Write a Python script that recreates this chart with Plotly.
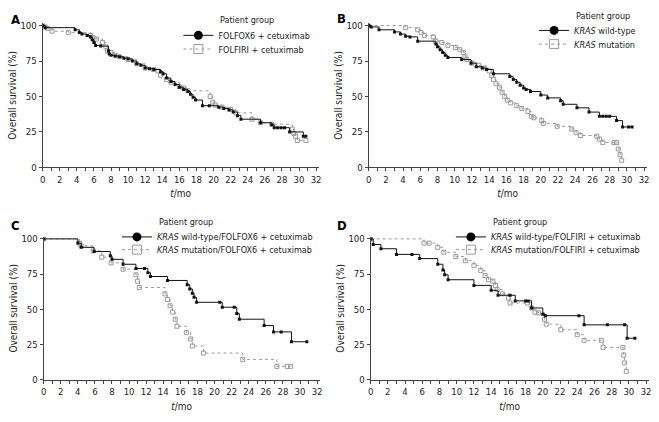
import plotly.graph_objects as go

# ---- data (months, % surviving) ----
a_fox_t = [0, 0.3, 3.8, 4.3, 4.6, 5.2, 5.6, 5.8, 6.0, 6.2, 6.8, 7.7, 7.8, 8.0, 8.5, 9.0, 9.5, 10.0, 10.5, 11.0,
           11.5, 12.0, 12.5, 13.0, 13.8, 14.1, 14.5, 15.0, 15.5, 16.0, 16.5, 17.0, 17.3, 17.6, 17.9, 18.7, 19.5,
           20.6, 21.2, 21.8, 22.3, 22.8, 23.2, 25.5, 26.8, 27.1, 27.5, 27.9, 28.3, 28.9, 30.5, 30.8]
a_fox_s = [100, 98.5, 97, 95, 94, 93, 92, 90, 88, 86, 85.5, 82, 80, 79, 78.5, 78, 77, 76.5, 75, 73,
           72, 70, 69.5, 69, 67.5, 66, 63, 60.5, 58.5, 56.5, 55, 53.5, 51.5, 49.5, 47.5, 43.5, 43.5,
           42.5, 41.5, 40.5, 39, 36.5, 34, 31.5, 30, 28, 28, 28, 28, 25, 22, 22]
a_iri_t = [0, 0.3, 0.6, 1.1, 3.0, 5.6, 5.9, 6.3, 7.0, 7.4, 7.6, 8.0, 8.5, 9.0, 10.0, 11.0, 12.0, 13.0, 13.5, 13.8,
           14.5, 15.0, 16.0, 16.5, 17.0, 19.6, 19.9, 20.2, 21.0, 22.0, 22.6, 24.5, 25.5, 26.8, 29.2, 29.4, 29.6,
           29.8, 30.8]
a_iri_s = [100, 99, 98, 96, 95, 93, 91.5, 90.5, 88, 85, 82, 81, 79, 78, 76, 73, 70, 69, 68, 65,
           62, 60, 57, 56, 54, 50, 46, 44, 42.5, 41, 38.5, 34, 31.5, 30.5, 27, 24, 22,
           19, 19]

b_wt_t = [0, 0.3, 1.2, 3.0, 3.7, 4.3, 4.8, 5.7, 7.8, 8.0, 8.3, 8.6, 8.9, 9.2, 10.8, 11.9, 12.5, 13.2, 13.7, 14.5,
          16.4, 16.8, 17.2, 17.6, 18.0, 18.3, 18.8, 20.0, 20.8, 22.3, 22.6, 24.2, 25.6, 26.8, 27.2, 27.6, 28.0,
          28.8, 29.5, 30.2, 30.6]
b_wt_s = [100, 99, 97, 95.5, 94, 92.5, 92, 89, 87, 85, 83, 81, 79, 77.5, 76, 73.5, 71, 70, 69, 66,
          64, 62, 60, 58, 56, 55, 53.5, 51, 49, 47, 44.5, 42, 39, 36, 36, 36, 36,
          33, 28.5, 28.5, 28.5]
b_mut_t = [0, 4.3, 5.7, 6.1, 6.5, 7.5, 7.8, 8.5, 9.2, 10.1, 10.6, 11.0, 11.2, 11.4, 12.0, 12.8, 13.5, 14.0, 14.3,
           14.5, 14.8, 15.2, 15.5, 15.8, 16.1, 16.5, 17.2, 17.8, 18.5, 18.9, 19.2, 20.1, 20.3, 21.9, 23.6, 24.1,
           24.6, 26.5, 26.8, 27.2, 28.5, 28.8, 29.0, 29.2, 29.4]
b_mut_s = [100, 98.5, 97, 95, 93, 92, 89, 88, 86, 84.5, 83, 81, 78, 76, 73.5, 72, 70, 68, 65,
           62, 59, 56.5, 53, 50, 47.5, 45.5, 43.5, 41.5, 39.5, 36, 35, 33, 31, 29, 27, 24.5,
           22.5, 22, 20, 17.5, 17.5, 17.5, 13, 9, 5]

c_wt_t = [0, 4.0, 4.4, 5.9, 7.8, 8.0, 9.3, 10.8, 11.8, 12.2, 12.5, 14.5, 16.8, 17.1, 17.4, 17.6, 17.9, 20.6,
          20.9, 22.3, 22.6, 22.9, 25.8, 26.9, 27.8, 29.0, 30.8]
c_wt_s = [100, 97, 94, 91, 88, 85.5, 82, 79, 79, 76, 73.3, 70.5, 67.5, 64.5, 61.5, 58.5, 55, 55,
          51.5, 51.5, 47, 43, 38.5, 34, 34, 27, 27]
c_mut_t = [0, 4.2, 4.4, 5.8, 6.8, 7.9, 9.3, 10.8, 11.0, 11.2, 14.2, 14.5, 14.8, 15.1, 15.4, 15.6, 16.7, 17.2,
           17.4, 18.7, 23.3, 27.3, 28.5, 28.9]
c_mut_s = [100, 97, 95, 91.5, 87, 83, 78.5, 74.5, 70, 65.5, 61, 57, 52.5, 48, 43, 38, 33.5, 29,
           24, 19, 14.5, 9.5, 9.5, 9.5]

d_wt_t = [0, 0.3, 1.2, 3.0, 4.8, 5.7, 7.8, 8.4, 8.6, 9.0, 12.0, 14.0, 14.8, 16.2, 16.8, 18.0, 18.3, 18.7, 20.0,
          20.3, 24.2, 24.8, 27.5, 29.5, 29.8, 30.7]
d_wt_s = [100, 96, 93, 89, 89, 86, 82, 78, 74.5, 71, 67, 63.5, 60, 60, 56, 56, 56, 51, 46.5,
          45.5, 45.5, 39, 39, 39, 29.5, 29.5]
d_mut_t = [0, 6.2, 6.8, 7.8, 8.5, 9.9, 11.0, 12.0, 12.8, 13.3, 13.7, 14.2, 14.5, 14.7, 15.3, 16.0, 16.2, 18.2,
           18.7, 19.1, 19.5, 20.2, 20.4, 22.1, 24.0, 24.8, 26.8, 27.0, 29.3, 29.4, 29.5, 29.7]
d_mut_s = [100, 97, 97, 94, 90.5, 87.5, 84.5, 81, 77.5, 74, 71, 70, 67, 64, 61, 58, 54.5, 54.5,
           51, 48, 47.5, 43, 39.5, 35.5, 32, 28, 28, 23, 23, 17.5, 12, 6]

panel_letters = ["A", "B", "C", "D"]
names_black = ["FOLFOX6 + cetuximab", "<i>KRAS</i> wild-type",
               "<i>KRAS</i> wild-type/FOLFOX6 + cetuximab", "<i>KRAS</i> wild-type/FOLFIRI + cetuximab"]
names_grey = ["FOLFIRI + cetuximab", "<i>KRAS</i> mutation",
              "<i>KRAS</i> mutation/FOLFOX6 + cetuximab", "<i>KRAS</i> mutation/FOLFIRI + cetuximab"]
curves = [(a_fox_t, a_fox_s, a_iri_t, a_iri_s), (b_wt_t, b_wt_s, b_mut_t, b_mut_s),
          (c_wt_t, c_wt_s, c_mut_t, c_mut_s), (d_wt_t, d_wt_s, d_mut_t, d_mut_s)]

W, H = 659, 422
FONT = "DejaVu Sans Condensed, DejaVu Sans"
GREY = "#9a9a9a"

# pixel geometry of each panel: x of t=0, x of t=32, y of 0 %, y of 100 %,
# legend text x, title y, legend item rows, panel letter pos
geo = [
    dict(x0=40, x32=316, y0=167, y100=22, lx=217, ty=16, iy=(32, 46), px=13, py=16),
    dict(x0=369, x32=647, y0=167, y100=22, lx=576, ty=12, iy=(27, 41), px=342, py=15),
    dict(x0=41, x32=317, y0=384, y100=240, lx=155, ty=223, iy=(238, 251), px=13, py=226),
    dict(x0=371, x32=649, y0=384, y100=240, lx=492, ty=223, iy=(238, 251), px=342, py=226),
]

fig = go.Figure()
annotations = []
layout = dict()

for i in range(4):
    g = geo[i]
    sfx = "" if i == 0 else str(i + 1)
    ppm = (g["x32"] - g["x0"]) / 32.0
    ppp = (g["y0"] - g["y100"]) / 100.0
    xmax, ymax = 32.3, 101.5
    xdom = [g["x0"] / W, (g["x0"] + xmax * ppm) / W]
    ydom = [1 - g["y0"] / H, 1 - (g["y0"] - ymax * ppp) / H]

    bt, bs, gt, gs = curves[i]
    leg_b = "legend" if i == 0 else "legend" + str(2 * i + 1)
    leg_g = "legend" + str(2 * i + 2)
    fig.add_trace(go.Scatter(x=gt, y=gs, mode="lines+markers", line_shape="hv",
                             line=dict(color=GREY, width=1, dash="dot"),
                             marker=dict(symbol="square-open", size=4, color=GREY, line=dict(width=1)),
                             showlegend=False, xaxis="x" + sfx, yaxis="y" + sfx))
    fig.add_trace(go.Scatter(x=bt, y=bs, mode="lines+markers", line_shape="hv",
                             line=dict(color="#111", width=1),
                             marker=dict(symbol="square", size=3, color="#111"),
                             showlegend=False, xaxis="x" + sfx, yaxis="y" + sfx))
    # legend entries (one legend per row so the rows sit as tight as the original)
    fig.add_trace(go.Scatter(x=[None], y=[None], mode="lines+markers", name=names_black[i],
                             line=dict(color="#111", width=1), marker=dict(symbol="circle", size=9, color="#000"),
                             legend=leg_b, xaxis="x" + sfx, yaxis="y" + sfx))
    fig.add_trace(go.Scatter(x=[None], y=[None], mode="lines+markers", name=names_grey[i],
                             line=dict(color=GREY, width=1, dash="dot"),
                             marker=dict(symbol="square-open", size=9, color=GREY, line=dict(width=1)),
                             legend=leg_g, xaxis="x" + sfx, yaxis="y" + sfx))

    layout["xaxis" + sfx] = dict(domain=xdom, range=[0, xmax], anchor="y" + sfx, tick0=0, dtick=2,
                                 showline=True, linecolor="#444", linewidth=1, ticks="outside", ticklen=3,
                                 tickcolor="#444", showgrid=False, zeroline=False,
                                 tickfont=dict(size=9.5, color="#222"),
                                 minor=dict(dtick=1, ticks="outside", ticklen=3, tickcolor="#444"),
                                 title=dict(text="<i>t</i>/mo", font=dict(size=10, color="#222"), standoff=6))
    layout["yaxis" + sfx] = dict(domain=ydom, range=[0, ymax], anchor="x" + sfx,
                                 tickvals=[0, 25, 50, 75, 100],
                                 showline=True, linecolor="#444", linewidth=1, ticks="outside", ticklen=3,
                                 tickcolor="#444", showgrid=False, zeroline=False,
                                 tickfont=dict(size=9.5, color="#222"),
                                 title=dict(text="Overall survival (%)", font=dict(size=10, color="#222"), standoff=1))
    for leg, yy in ((leg_b, g["iy"][0]), (leg_g, g["iy"][1])):
        layout[leg] = dict(x=(g["lx"] - 40) / W, y=1 - yy / H, xanchor="left", yanchor="middle",
                           bgcolor="rgba(0,0,0,0)", font=dict(size=9, color="#222", family=FONT),
                           tracegroupgap=0, itemwidth=30)
    annotations.append(dict(text="Patient group", x=g["lx"] / W, y=1 - g["ty"] / H, xref="paper", yref="paper",
                            xanchor="left", yanchor="middle", showarrow=False,
                            font=dict(size=9, color="#222", family=FONT)))
    annotations.append(dict(text="<b>" + panel_letters[i] + "</b>", x=g["px"] / W, y=1 - g["py"] / H,
                            xref="paper", yref="paper", xanchor="center", yanchor="middle", showarrow=False,
                            font=dict(size=13, color="#000", family=FONT)))

fig.update_layout(**layout)
fig.update_layout(width=W, height=H, margin=dict(l=0, r=0, t=0, b=0), plot_bgcolor="white",
                  paper_bgcolor="white", font=dict(family=FONT, size=10, color="#222"),
                  annotations=annotations, showlegend=True)

# page body has a default 8px margin; drop it so the figure sits at the window origin
fig.write_html("out.html", config={"displayModeBar": False},
               post_script="document.body.style.margin='0';")
